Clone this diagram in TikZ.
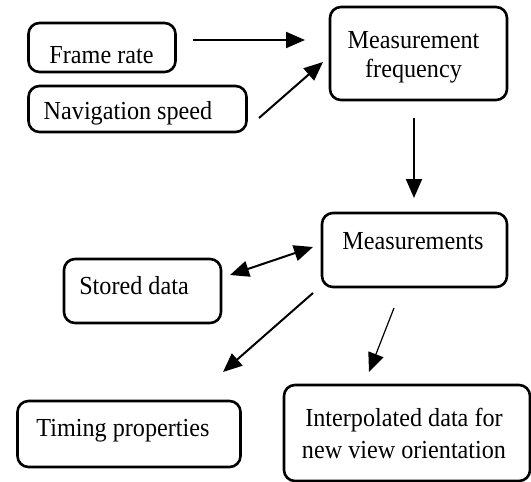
\documentclass[tikz,border=0pt]{standalone}
\usepackage{fontspec}
\setmainfont{Liberation Serif}[FakeStretch=0.93]
\usetikzlibrary{arrows.meta}
\begin{document}
\begin{tikzpicture}[x=1pt,y=-1pt,
  box/.style={draw, line width=2.6pt, rounded corners=11pt, inner sep=0pt},
  lbl/.style={font=\fontsize{26}{30}\selectfont, inner sep=0pt, anchor=base},
  tip/.tip={Triangle[length=19pt,width=16pt]},
  arr/.style={line width=2pt, -tip},
  darr/.style={line width=2pt, tip-tip}]
\useasboundingbox[fill=white] (0,0) rectangle (531,482);

% boxes
\node[box, minimum width=147pt, minimum height=49pt] (frame) at (102,47.5) {};
\node[box, minimum width=218pt, minimum height=46pt] (nav) at (137.5,109) {};
\node[box, minimum width=177pt, minimum height=93pt] (freq) at (418.5,53.5) {};
\node[box, minimum width=185pt, minimum height=74pt] (meas) at (414.5,250) {};
\node[box, minimum width=157pt, minimum height=64pt] (stored) at (142.5,291) {};
\node[box, minimum width=223pt, minimum height=66pt] (timing) at (129,434) {};
\node[box, minimum width=246pt, minimum height=96pt] (interp) at (407,433) {};

% labels
\node[lbl] (frametxt) at (101.5,63) {Frame rate};
\node[lbl] (navtxt) at (128,119) {Navigation speed};
\node[lbl] (freqtxt1) at (413.5,48) {Measurement};
\node[lbl] (freqtxt2) at (413.5,77) {frequency};
\node[lbl] (meastxt) at (413,249) {Measurements};
\node[lbl] (storedtxt) at (134,294) {Stored data};
\node[lbl] (timingtxt) at (123,436) {Timing properties};
\node[lbl] (interptxt1) at (404,426) {Interpolated data for};
\node[lbl] (interptxt2) at (404,458) {new view orientation};

% connector ends
\coordinate (a1) at (193,40);  \coordinate (a2) at (305,40);
\coordinate (b1) at (259,118); \coordinate (b2) at (323,62);
\coordinate (c1) at (414,118); \coordinate (c2) at (414,198);
\coordinate (d1) at (230,275); \coordinate (d2) at (313,247);
\coordinate (e1) at (313,293); \coordinate (e2) at (223,372);
\coordinate (f1) at (394,308); \coordinate (f2) at (369,372);

\draw[arr] (a1) -- (a2);
\draw[arr] (b1) -- (b2);
\draw[arr] (c1) -- (c2);
\draw[darr] (d1) -- (d2);
\draw[arr] (e1) -- (e2);
\draw[arr, line width=1.2pt] (f1) -- (f2);
\end{tikzpicture}
\end{document}
